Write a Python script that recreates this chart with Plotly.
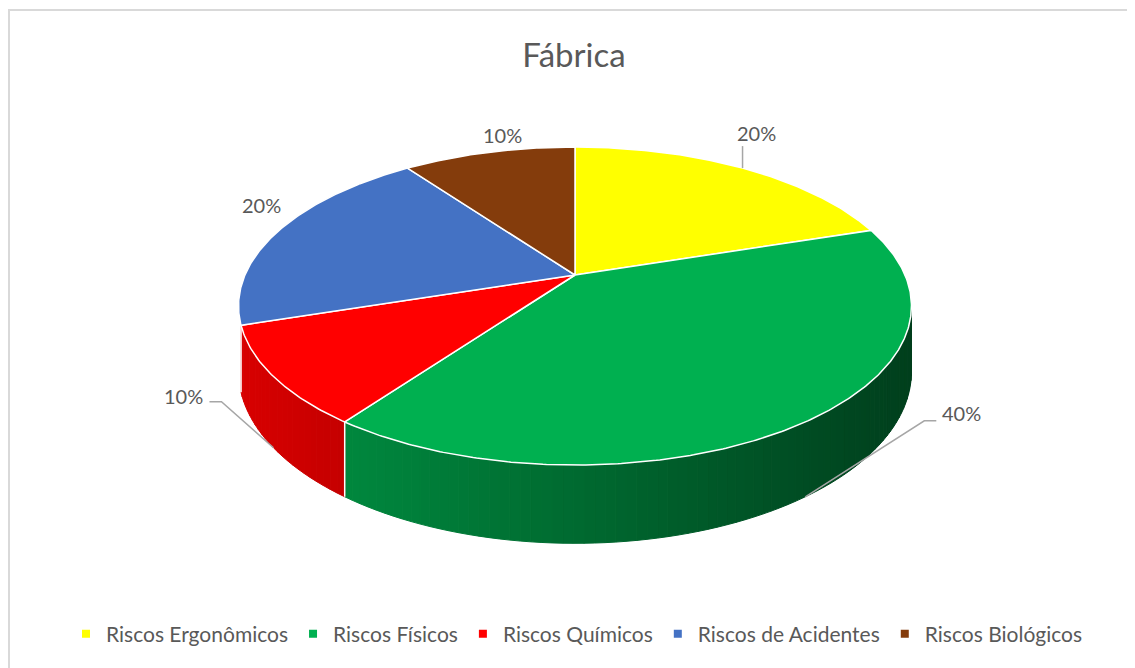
import numpy as np
import plotly.graph_objects as go

# ---------------- data ----------------
categories = ["Riscos Ergonômicos", "Riscos Físicos", "Riscos Químicos",
              "Riscos de Acidentes", "Riscos Biológicos"]
values = [20, 40, 10, 20, 10]
colors = ["#FFFF00", "#00B050", "#FF0000", "#4472C4", "#843C0C"]
title_text = "Fábrica"

# ---------------- layout / style ----------------
WIN_W, WIN_H = 1135, 668
OFF = 8                    # page body margin
W, H = WIN_W - OFF, WIN_H - OFF
CX, CY = 575, 275          # projected centre of the pie top (screen px)
A, B, K = 330, 153, 0.195  # horizontal / vertical radius, perspective factor
D0 = 63                    # depth of the pie wall
label_dx = [14, 156, -90, -17, 14]
label_dy = [-35, -84, -52, -25, -17]
leader_kind = ["vertical", "right", "left", None, None]
TEXT = "#595959"
FONT = "Lato"


def px_to_paper_x(x):
    return (x - OFF) / W


def px_to_paper_y(y):
    return (WIN_H - y) / H


def proj(theta_deg, r=1.0):
    t = np.radians(theta_deg)
    u = r * np.sin(t)
    v = r * np.cos(t)
    w = 1 + K * v
    return CX + A * u / w, CY - B * v / w, w


def shade(hex_color, f):
    h = hex_color.lstrip("#")
    r, g, b = (int(h[i:i + 2], 16) for i in (0, 2, 4))
    return "rgb(%d,%d,%d)" % (round(r * f), round(g * f), round(b * f))


total = float(sum(values))
starts, ends = [], []
acc = 0.0
for v in values:
    starts.append(acc / total * 360)
    acc += v
    ends.append(acc / total * 360)

vis_lo = np.degrees(np.arccos(-K))
vis_hi = 360 - vis_lo

fig = go.Figure()

# ---- side wall (front-facing slices) with gradient ----
for i, (a, b) in enumerate(zip(starts, ends)):
    m = (a + b) / 2
    if not (vis_lo < m < vis_hi):
        continue
    lo, hi = max(a, vis_lo), min(b, vis_hi)
    n = int(np.ceil((hi - lo) / 1.5))
    th = np.linspace(lo, hi, n + 1)
    for t1, t2 in zip(th[:-1], th[1:]):
        x1, y1, w1 = proj(t1)
        x2, y2, w2 = proj(t2)
        xm = (x1 + x2) / 2
        f = min(0.9, max(0.3, 0.84 - 0.00073 * (xm - 250)))
        col = shade(colors[i], f)
        fig.add_trace(go.Scatter(
            x=[x1, x2, x2, x1, x1],
            y=[y1, y2, y2 + D0 / w2, y1 + D0 / w1, y1],
            mode="lines", fill="toself", fillcolor=col,
            line=dict(color=col, width=1), hoverinfo="skip", showlegend=False))

# white vertical edges between slices on the wall
for b in ends[:-1]:
    if vis_lo < b < vis_hi:
        x, y, w = proj(b)
        fig.add_trace(go.Scatter(x=[x, x], y=[y, y + D0 / w], mode="lines",
                                 line=dict(color="white", width=1.5),
                                 hoverinfo="skip", showlegend=False))

# ---- top face ----
for i, (a, b) in enumerate(zip(starts, ends)):
    th = np.linspace(a, b, max(int((b - a) / 0.5), 2) + 1)
    xs, ys, _ = proj(th)
    px = [CX] + list(xs) + [CX]
    py = [CY] + list(ys) + [CY]
    fig.add_trace(go.Scatter(x=px, y=py, mode="lines", fill="toself",
                             fillcolor=colors[i],
                             line=dict(color="white", width=1.5),
                             hoverinfo="skip", showlegend=False))

# ---- labels and leader lines ----
annotations = []
for i, (a, b) in enumerate(zip(starts, ends)):
    m = (a + b) / 2
    ax_, ay_, w = proj(m)
    if vis_lo < m < vis_hi:
        ay_ = ay_ + D0 / w
    lx, ly = ax_ + label_dx[i], ay_ + label_dy[i]
    pct = "%d%%" % round(values[i] / total * 100)
    annotations.append(dict(x=lx, y=ly, xref="x", yref="y", text=pct,
                            showarrow=False, xanchor="center", yanchor="middle",
                            font=dict(family=FONT, size=20, color=TEXT)))
    kind = leader_kind[i]
    if kind == "vertical":
        lxs, lys = [ax_, ax_], [ay_, ly + 13]
    elif kind == "right":
        lxs, lys = [ax_, lx - 37, lx - 25], [ay_, ly + 8, ly + 8]
    elif kind == "left":
        lxs, lys = [ax_, lx + 38, lx + 26], [ay_, ly + 6, ly + 6]
    else:
        continue
    fig.add_trace(go.Scatter(x=lxs, y=lys, mode="lines",
                             line=dict(color="#A6A6A6", width=1.5),
                             hoverinfo="skip", showlegend=False))

# ---- legend entries ----
for c, col in zip(categories, colors):
    fig.add_trace(go.Scatter(x=[None], y=[None], mode="markers", name=c,
                             marker=dict(symbol="square", size=8, color=col)))

fig.update_layout(
    width=W, height=H,
    margin=dict(l=0, r=0, t=0, b=0),
    paper_bgcolor="white", plot_bgcolor="white",
    xaxis=dict(range=[OFF, WIN_W], visible=False, fixedrange=True),
    yaxis=dict(range=[WIN_H, OFF], visible=False, fixedrange=True),
    title=dict(text=title_text, x=px_to_paper_x(574), xanchor="center",
               y=px_to_paper_y(55), yanchor="middle",
               font=dict(family=FONT, size=33, color=TEXT)),
    legend=dict(orientation="h", x=px_to_paper_x(577), xanchor="center",
                y=px_to_paper_y(634), yanchor="middle",
                font=dict(family=FONT, size=21, color=TEXT),
                itemwidth=30, bgcolor="rgba(0,0,0,0)"),
    annotations=annotations,
    shapes=[dict(type="rect", xref="paper", yref="paper",
                 x0=px_to_paper_x(9), y0=px_to_paper_y(10),
                 x1=1.05, y1=-0.05, line=dict(color="#D9D9D9", width=2),
                 fillcolor="rgba(0,0,0,0)", layer="below")],
    showlegend=True,
)

fig.write_html("out.html")
